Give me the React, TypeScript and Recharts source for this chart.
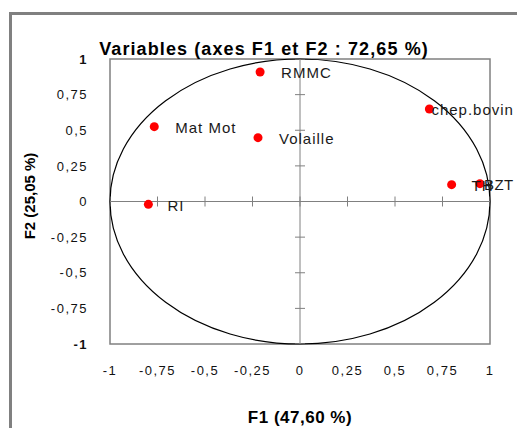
import React from 'react';
import { ScatterChart, Scatter, XAxis, YAxis, ReferenceLine, ReferenceArea, LabelList } from 'recharts';

const variableNames = ['RMMC', 'Mat Mot', 'Volaille', 'RI', 'chep.bovin', 'TH', 'BZT'];
const f1Values = [-0.21, -0.767, -0.221, -0.798, 0.681, 0.798, 0.947];
const f2Values = [0.909, 0.525, 0.448, -0.02, 0.649, 0.118, 0.125];
const axisTicks = [-1, -0.75, -0.5, -0.25, 0, 0.25, 0.5, 0.75, 1];
const axisTickLabels = ['-1', '-0,75', '-0,5', '-0,25', '0', '0,25', '0,5', '0,75', '1'];
const chartTitle = 'Variables (axes F1 et F2 : 72,65 %)';
const xTitle = 'F1 (47,60 %)';
const yTitle = 'F2 (25,05 %)';

const points = variableNames.map((name, i) => ({ name, f1: f1Values[i], f2: f2Values[i] }));
const xAxisMarks = axisTicks.map((t) => ({ f1: t, f2: 0 }));
const yAxisMarks = axisTicks.map((t) => ({ f1: 0, f2: t }));

// label horizontal offsets (styling)
const labelDx: Record<string, number> = {
  RMMC: 21,
  'Mat Mot': 21,
  Volaille: 21,
  RI: 19,
  'chep.bovin': 2,
  TH: 20,
  BZT: 4,
};

const FONT = '"Liberation Sans", Arial, sans-serif';

const tickText = (v: number) => {
  const i = axisTicks.indexOf(v);
  return i >= 0 ? axisTickLabels[i] : String(v);
};

const XTick = (props: any) => {
  const { x, y, payload } = props;
  return (
    <text x={x} y={y} dy="0.71em" textAnchor="middle" fontFamily={FONT} fontSize={13} letterSpacing={1.5} fill="#111">
      {tickText(payload.value)}
    </text>
  );
};

const YTick = (props: any) => {
  const { x, y, payload } = props;
  const bold = Math.abs(payload.value) === 1;
  return (
    <text x={x} y={y} dy="0.36em" textAnchor="end" fontFamily={FONT} fontSize={13} letterSpacing={1.5} fontWeight={bold ? 'bold' : 'normal'} fill="#111">
      {tickText(payload.value)}
    </text>
  );
};

const PointLabel = (props: any) => {
  const { x, y, width, height, value } = props;
  const cx = x + (width || 0) / 2;
  const cy = y + (height || 0) / 2;
  return (
    <text x={cx + (labelDx[value] ?? 20)} y={cy + 1} dy="0.36em" textAnchor="start" fontFamily={FONT} fontSize={15} letterSpacing={value === 'BZT' ? 0.5 : 1} fill="#1a1a1a">
      {value}
    </text>
  );
};

const FrameAndCircle = (props: any) => {
  const { x, y, width, height } = props;
  return (
    <g>
      <rect x={x} y={y} width={width} height={height} fill="none" stroke="#808080" strokeWidth={1.5} />
      <ellipse cx={x + width / 2} cy={y + height / 2} rx={width / 2} ry={height / 2} fill="none" stroke="#000" strokeWidth={1.2} />
    </g>
  );
};

export default function App() {
  return (
    <div style={{ position: 'absolute', left: 0, top: 0, width: 517, height: 428, overflow: 'hidden', background: '#fff' }}>
      <div style={{ position: 'absolute', left: 9, top: 12, width: 600, height: 600, border: '3px solid #808080', boxSizing: 'border-box' }} />
      <div style={{ position: 'absolute', left: 0, top: 0 }}>
        <ScatterChart width={517} height={428} margin={{ top: 59, right: 27, bottom: 0, left: 0 }}>
          <XAxis
            type="number"
            dataKey="f1"
            domain={[-1, 1]}
            ticks={axisTicks}
            axisLine={false}
            tickLine={false}
            tickSize={0}
            tickMargin={22}
            height={84}
            tick={<XTick />}
            allowDataOverflow
          />
          <YAxis
            type="number"
            dataKey="f2"
            domain={[-1, 1]}
            ticks={axisTicks}
            axisLine={false}
            tickLine={false}
            tickSize={0}
            tickMargin={22}
            width={110}
            tick={<YTick />}
            allowDataOverflow
          />
          <ReferenceLine x={0} stroke="#808080" strokeWidth={1} />
          <ReferenceLine y={0} stroke="#808080" strokeWidth={1} />
          <ReferenceArea x1={-1} x2={1} y1={-1} y2={1} shape={<FrameAndCircle />} />
          <Scatter
            data={xAxisMarks}
            isAnimationActive={false}
            shape={(p: any) => <line x1={p.cx} x2={p.cx} y1={p.cy - 5} y2={p.cy + 5} stroke="#808080" strokeWidth={1} />}
          />
          <Scatter
            data={yAxisMarks}
            isAnimationActive={false}
            shape={(p: any) => <line x1={p.cx - 5} x2={p.cx + 5} y1={p.cy} y2={p.cy} stroke="#808080" strokeWidth={1} />}
          />
          <Scatter
            data={points}
            isAnimationActive={false}
            fill="#ff0000"
            shape={(p: any) => <circle cx={p.cx} cy={p.cy} r={4.5} fill="#ff0000" />}
          >
            <LabelList dataKey="name" content={<PointLabel />} />
          </Scatter>
        </ScatterChart>
      </div>
      <svg width={517} height={428} style={{ position: 'absolute', left: 0, top: 0, pointerEvents: 'none' }}>
        <text x={264} y={55} textAnchor="middle" fontFamily={FONT} fontSize={18} fontWeight="bold" letterSpacing={1.1} fill="#000">
          {chartTitle}
        </text>
        <text x={300} y={423} textAnchor="middle" fontFamily={FONT} fontSize={17} fontWeight="bold" letterSpacing={0.5} fill="#000">
          {xTitle}
        </text>
        <text x={30} y={196} transform="rotate(-90 30 196)" textAnchor="middle" dy="0.36em" fontFamily={FONT} fontSize={15} fontWeight="bold" fill="#000">
          {yTitle}
        </text>
      </svg>
    </div>
  );
}
